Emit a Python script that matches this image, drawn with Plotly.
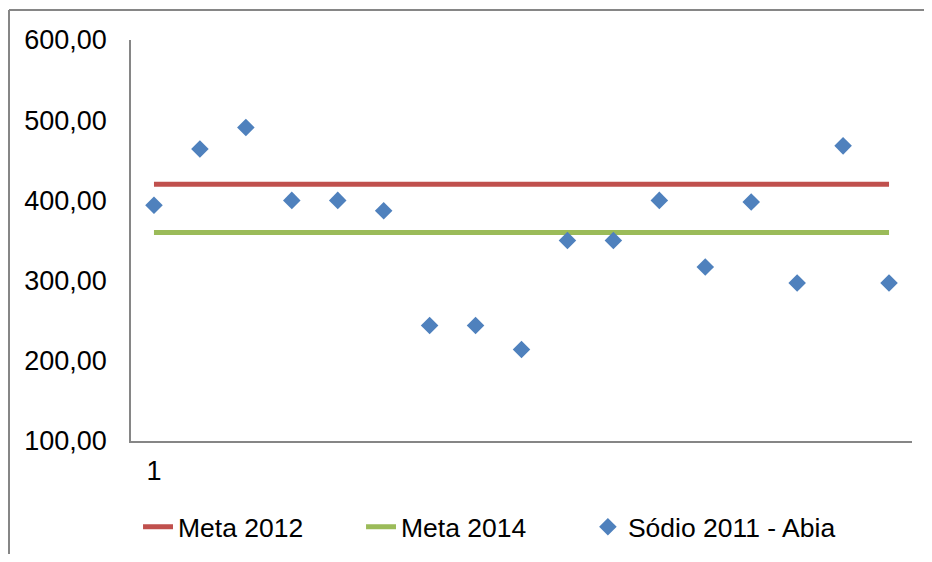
import plotly.graph_objects as go

# Data
pontos = list(range(1, 18))
sodio_2011_abia = [394, 464, 491, 400, 400, 387, 244, 244, 214, 350, 350, 400, 317, 398, 297, 468, 297]
meta_2012 = [420] * 17
meta_2014 = [360] * 17
y_ticks = [100, 200, 300, 400, 500, 600]
x_ticks = [1]
x_tick_labels = ["1"]

RED = "#C0504D"
GREEN = "#9BBB59"
BLUE = "#4F81BD"
AXIS = "#868686"
FONT = "Liberation Sans, Arial, sans-serif"

fig = go.Figure()

fig.add_trace(go.Scatter(
    x=pontos, y=meta_2012, mode="lines", name="Meta 2012",
    line=dict(color=RED, width=5), legend="legend",
))
fig.add_trace(go.Scatter(
    x=pontos, y=meta_2014, mode="lines", name="Meta 2014",
    line=dict(color=GREEN, width=5), legend="legend",
))
fig.add_trace(go.Scatter(
    x=pontos, y=sodio_2011_abia, mode="markers", name="Sódio 2011 - Abia",
    marker=dict(symbol="diamond", color=BLUE, size=13.5, line=dict(width=0)),
    legend="legend2",
))

# outer chart border: only top and left edges are visible in the source
fig.add_shape(
    type="line", xref="paper", yref="paper",
    x0=-0.1562, y0=1.0748, x1=1.3, y1=1.0748,
    line=dict(color=AXIS, width=2), layer="below",
)
fig.add_shape(
    type="line", xref="paper", yref="paper",
    x0=-0.1562, y0=-0.5, x1=-0.1562, y1=1.0748,
    line=dict(color=AXIS, width=2), layer="below",
)

legend_common = dict(
    orientation="h",
    y=-0.2145, yanchor="middle",
    xanchor="left",
    font=dict(size=26.5),
    bgcolor="rgba(0,0,0,0)",
)

# figure is sized so that it fits inside the page with the default body margin
fig.update_layout(
    width=916,
    height=546,
    margin=dict(l=123, r=12, t=32, b=113, autoexpand=False),
    plot_bgcolor="white",
    paper_bgcolor="white",
    separators=",.",
    font=dict(family=FONT, size=27, color="#000000"),
    showlegend=True,
    legend=dict(x=0.009, entrywidth=178, entrywidthmode="pixels", **legend_common),
    legend2=dict(x=0.585, **legend_common),
    xaxis=dict(
        range=[0.5, 17.5],
        tickvals=x_ticks,
        ticktext=x_tick_labels,
        showgrid=False,
        zeroline=False,
        showline=True,
        linecolor=AXIS,
        linewidth=1.5,
        ticks="",
        ticklabelstandoff=5,
        automargin=False,
    ),
    yaxis=dict(
        range=[100, 600],
        tickvals=y_ticks,
        tickformat=".2f",
        showgrid=False,
        zeroline=False,
        showline=True,
        linecolor=AXIS,
        linewidth=1.5,
        ticks="",
        ticklabelstandoff=17,
        automargin=False,
    ),
)

fig.write_html("out.html")
